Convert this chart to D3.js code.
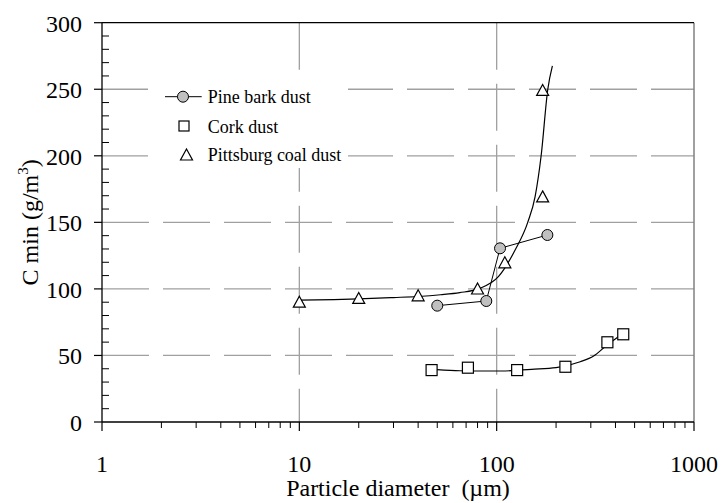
<!DOCTYPE html>
<html><head><meta charset="utf-8">
<script src="https://cdn.jsdelivr.net/npm/d3@7"></script>
<style>
body{margin:0;background:#fff}
svg{display:block}
text{font-family:"Liberation Serif","Times New Roman",serif;fill:#000}
</style>
</head><body>
<svg id="c" width="721" height="503"></svg>
<script>
// ---- data ----
const pineBark = [[50,87.4],[88.6,90.9],[104,130.5],[180.7,140.5]];
const cork = [[46.8,39],[71.5,40.8],[127,39],[223,41.5],[364,59.9],[438,65.9]];
const coal = [[10,90.4],[20,93.2],[40,95.2],[80,100.3],[110,120],[171,169.5],[171,249.5]];
const coalFit = [[10,91.5],[15,92],[20,92.5],[30,93.5],[40,94.3],[52,95.6],[65,97.2],[82,100.4],[102,109.2],[124,129.2],[143.7,150],[156.6,169.3],[168,200],[181.6,250],[191.6,267.5]];
const corkFit = [[49.7,39.3],[65,38.5],[80,38.3],[106,38.3],[150,39.6],[200,40.8],[265,45.3],[310,49.6],[361,57.6],[442,67.1]];
const xTicks = [1,10,100,1000];
const yTicks = [0,50,100,150,200,250,300];
const xGrid = [10,100];
const yGrid = [50,100,150,200,250];
const legendItems = ["Pine bark dust","Cork dust","Pittsburg coal dust"];
const xTitle = "Particle diameter  (\u00B5m)";

// ---- layout ----
const svg = d3.select("#c");
const L = 102, R = 694, T = 22.7, B = 422;
const x = d3.scaleLog().domain([1,1000]).range([L,R]);
const y = d3.scaleLinear().domain([0,300]).range([B,T]);
const grid = "#a0a0a0";

// gridlines
svg.append("g").selectAll("line").data(yGrid).join("line")
  .attr("x1",L).attr("x2",R).attr("y1",d=>y(d)).attr("y2",d=>y(d))
  .attr("stroke",grid).attr("stroke-width",1.3).attr("stroke-dasharray","47,14");
svg.append("g").selectAll("line").data(xGrid).join("line")
  .attr("x1",d=>x(d)).attr("x2",d=>x(d)).attr("y1",T).attr("y2",B)
  .attr("stroke",grid).attr("stroke-width",1.3).attr("stroke-dasharray","47,14");

// legend background
svg.append("rect").attr("x",148).attr("y",72).attr("width",200).attr("height",96).attr("fill","#fff");

// frame: right gray, top black
svg.append("line").attr("x1",R).attr("x2",R).attr("y1",T).attr("y2",B).attr("stroke","#808080").attr("stroke-width",1.5);
svg.append("line").attr("x1",L).attr("x2",R).attr("y1",T).attr("y2",T).attr("stroke","#000").attr("stroke-width",1.3);

// curves
const line = d3.line().x(d=>x(d[0])).y(d=>y(d[1]));
const smooth = d3.line().x(d=>x(d[0])).y(d=>y(d[1])).curve(d3.curveMonotoneX);
svg.append("path").attr("d",smooth(coalFit)).attr("fill","none").attr("stroke","#000").attr("stroke-width",1.2);
svg.append("path").attr("d",smooth(corkFit)).attr("fill","none").attr("stroke","#000").attr("stroke-width",1.2);
svg.append("path").attr("d",line(pineBark)).attr("fill","none").attr("stroke","#000").attr("stroke-width",1);

// markers
const tri = (cx,cy,w=12,h=11)=>`M${cx},${cy-h/2}L${cx+w/2},${cy+h/2}L${cx-w/2},${cy+h/2}Z`;
svg.append("g").selectAll("path").data(coal).join("path")
  .attr("d",d=>tri(x(d[0]),y(d[1]))).attr("fill","#fff").attr("stroke","#000").attr("stroke-width",1.2);
svg.append("g").selectAll("rect").data(cork).join("rect")
  .attr("x",d=>x(d[0])-5.5).attr("y",d=>y(d[1])-5.5).attr("width",11).attr("height",11)
  .attr("fill","#fff").attr("stroke","#000").attr("stroke-width",1.2);
svg.append("g").selectAll("circle").data(pineBark).join("circle")
  .attr("cx",d=>x(d[0])).attr("cy",d=>y(d[1])).attr("r",5.5)
  .attr("fill","#c0c0c0").attr("stroke","#000").attr("stroke-width",1);

// y axis
const yMinor = d3.range(0,301,10).filter(v=>v%50!==0);
svg.append("line").attr("x1",L).attr("x2",L).attr("y1",T).attr("y2",B).attr("stroke","#000").attr("stroke-width",1.3);
svg.append("g").selectAll("line").data(yMinor).join("line")
  .attr("x1",L).attr("x2",L+7).attr("y1",d=>y(d)).attr("y2",d=>y(d)).attr("stroke","#000").attr("stroke-width",1);
svg.append("g").selectAll("line").data(yTicks).join("line")
  .attr("x1",L-8).attr("x2",L).attr("y1",d=>y(d)).attr("y2",d=>y(d)).attr("stroke","#000").attr("stroke-width",1.2);
svg.append("g").selectAll("text").data(yTicks).join("text")
  .attr("x",82).attr("y",d=>y(d)+9).attr("text-anchor","end").attr("font-size",24).text(d=>d);

// x axis
const xMinor = [];
[1,10,100].forEach(b=>{for(let k=2;k<10;k++) xMinor.push(b*k);});
svg.append("line").attr("x1",L).attr("x2",R).attr("y1",B).attr("y2",B).attr("stroke","#000").attr("stroke-width",1.3);
svg.append("g").selectAll("line").data(xMinor).join("line")
  .attr("x1",d=>x(d)).attr("x2",d=>x(d)).attr("y1",B).attr("y2",B+6).attr("stroke","#000").attr("stroke-width",1);
svg.append("g").selectAll("line").data(xTicks).join("line")
  .attr("x1",d=>x(d)).attr("x2",d=>x(d)).attr("y1",B).attr("y2",B+9).attr("stroke","#000").attr("stroke-width",1.2);
svg.append("g").selectAll("text").data(xTicks).join("text")
  .attr("x",d=>x(d)).attr("y",472).attr("text-anchor","middle").attr("font-size",24).text(d=>d);

// titles
svg.append("text").attr("x",(L+R)/2).attr("y",496).attr("text-anchor","middle")
  .attr("font-size",24).style("white-space","pre").text(xTitle);
const yt = svg.append("text").attr("transform",`translate(38,${(T+B)/2}) rotate(-90)`)
  .attr("text-anchor","middle").attr("font-size",24);
yt.append("tspan").text("C min (g/m");
yt.append("tspan").attr("font-size",15).attr("dy",-10).text("3");
yt.append("tspan").attr("dy",10).text(")");

// legend
const ly = [96.7,126,154.5];
const lg = svg.append("g");
lg.append("line").attr("x1",165).attr("x2",201.7).attr("y1",ly[0]).attr("y2",ly[0]).attr("stroke","#000").attr("stroke-width",1);
lg.append("circle").attr("cx",183).attr("cy",ly[0]).attr("r",5.5).attr("fill","#c0c0c0").attr("stroke","#000");
lg.append("rect").attr("x",184-5).attr("y",ly[1]-5).attr("width",10).attr("height",10).attr("fill","#fff").attr("stroke","#000").attr("stroke-width",1.2);
lg.append("path").attr("d",tri(186.5,ly[2])).attr("fill","#fff").attr("stroke","#000").attr("stroke-width",1.2);
lg.selectAll("text").data(legendItems).join("text")
  .attr("x",207.7).attr("y",(d,i)=>ly[i]+6.5).attr("font-size",18).text(d=>d);
</script>
</body></html>
